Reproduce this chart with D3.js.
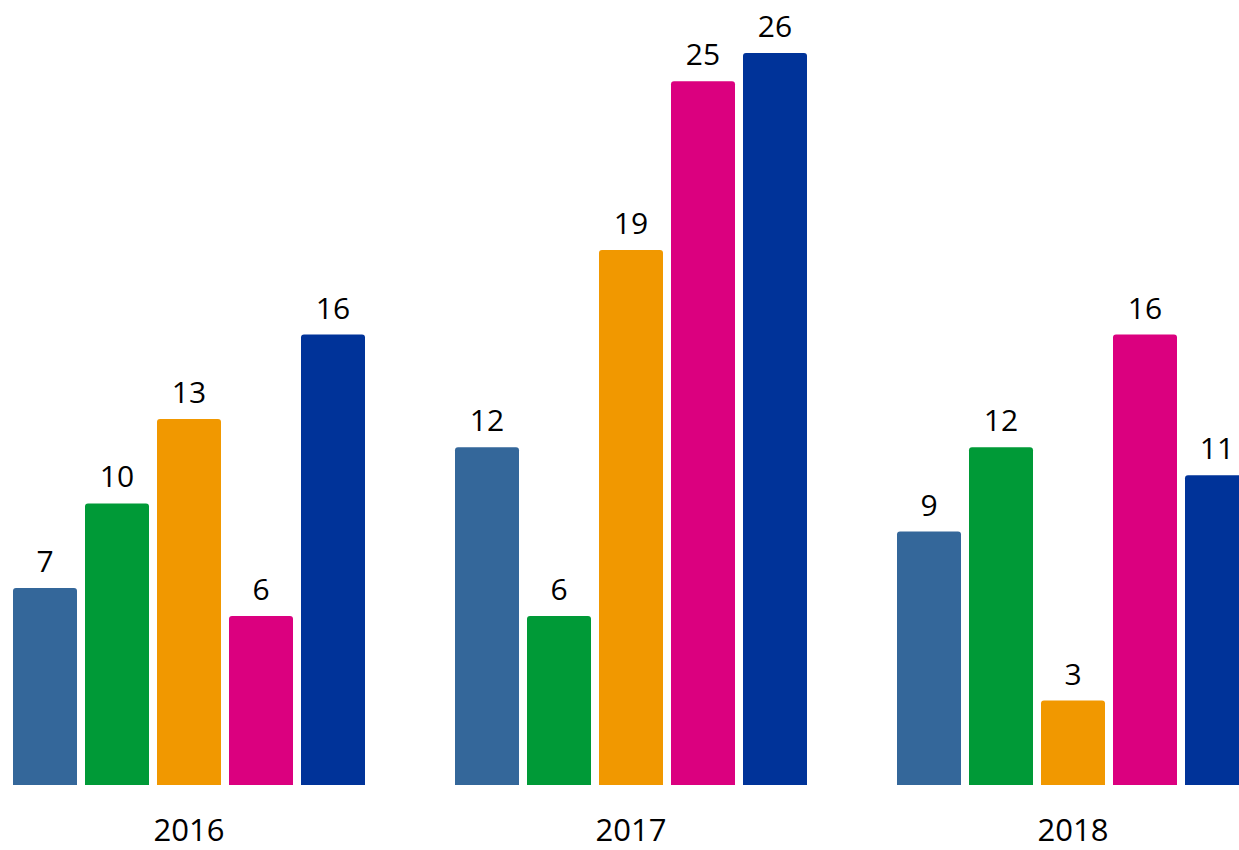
<!DOCTYPE html>
<html>
<head>
<meta charset="utf-8">
<script src="https://cdn.jsdelivr.net/npm/d3@7"></script>
<style>
  html, body { margin: 0; padding: 0; background: #fff; overflow: hidden; }
  svg { display: block; }
  text { font-family: "Open Sans", "Lato", sans-serif; fill: #000; }
</style>
</head>
<body>
<svg id="chart" width="1239" height="850"></svg>
<script>
const years = ["2016", "2017", "2018"];
const seriesNames = ["S1", "S2", "S3", "S4", "S5"];
const seriesColors = ["#34679a", "#009a37", "#f19800", "#db007f", "#003399"];
const values2016 = [7, 10, 13, 6, 16];
const values2017 = [12, 6, 19, 25, 26];
const values2018 = [9, 12, 3, 16, 11];
const valuesByYear = [values2016, values2017, values2018];

const svg = d3.select("#chart");

const x0 = d3.scaleBand()
  .domain(years)
  .range([-32, 1294])
  .paddingInner(90 / 442)
  .paddingOuter(45 / 442);

const x1 = d3.scaleBand()
  .domain(seriesNames)
  .range([0, x0.bandwidth()])
  .paddingInner(8 / 72)
  .paddingOuter(0);

const y = d3.scaleLinear().domain([0, 26]).range([785, 53]);

function topRounded(x, yTop, w, yBot, r) {
  const rr = Math.min(r, w / 2, (yBot - yTop));
  return `M${x},${yBot}V${yTop + rr}Q${x},${yTop} ${x + rr},${yTop}H${x + w - rr}Q${x + w},${yTop} ${x + w},${yTop + rr}V${yBot}Z`;
}

const groups = svg.selectAll("g.year")
  .data(years.map((yr, i) => ({ year: yr, vals: valuesByYear[i] })))
  .join("g")
  .attr("class", "year")
  .attr("transform", d => `translate(${x0(d.year)},0)`);

groups.selectAll("path")
  .data(d => d.vals.map((v, j) => ({ s: seriesNames[j], v, c: seriesColors[j] })))
  .join("path")
  .attr("d", d => topRounded(x1(d.s), y(d.v), x1.bandwidth(), y(0), 3))
  .attr("fill", d => d.c);

groups.selectAll("text.val")
  .data(d => d.vals.map((v, j) => ({ s: seriesNames[j], v })))
  .join("text")
  .attr("class", "val")
  .attr("x", d => x1(d.s) + x1.bandwidth() / 2)
  .attr("y", d => y(d.v) - 16)
  .attr("text-anchor", "middle")
  .attr("font-size", 30)
  .text(d => d.v);

svg.selectAll("text.year")
  .data(years)
  .join("text")
  .attr("class", "year")
  .attr("x", d => x0(d) + x0.bandwidth() / 2)
  .attr("y", 841)
  .attr("text-anchor", "middle")
  .attr("font-size", 31)
  .text(d => d);
</script>
</body>
</html>
